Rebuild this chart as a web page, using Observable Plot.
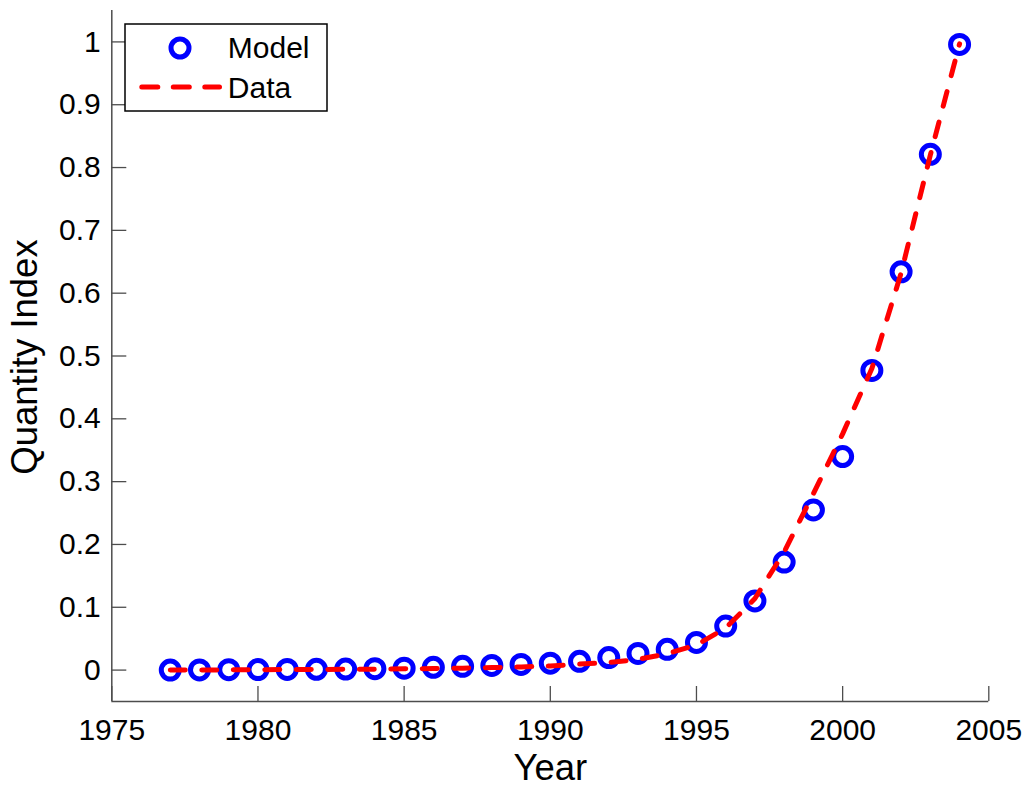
<!DOCTYPE html>
<html><head><meta charset="utf-8">
<script src="https://cdn.jsdelivr.net/npm/d3@7"></script>
<script src="https://cdn.jsdelivr.net/npm/@observablehq/plot@0.6"></script>
<style>
body{margin:0;background:#fff;}
#wrap{position:relative;width:1026px;height:789px;overflow:hidden;}
#wrap svg{display:block;}
</style></head><body><div id="wrap"></div>
<script>
const years = [1977,1978,1979,1980,1981,1982,1983,1984,1985,1986,1987,1988,1989,1990,1991,1992,1993,1994,1995,1996,1997,1998,1999,2000,2001,2002,2003,2004];
const modelValues = [0.000,0.0003,0.0006,0.0008,0.001,0.0013,0.0017,0.0022,0.003,0.0045,0.006,0.0075,0.009,0.011,0.014,0.020,0.0265,0.033,0.044,0.070,0.110,0.172,0.255,0.340,0.477,0.634,0.821,0.996];
const dataValues = [0.000,0.0002,0.0004,0.0006,0.0008,0.001,0.0012,0.0015,0.002,0.0025,0.003,0.004,0.005,0.0065,0.0095,0.012,0.017,0.026,0.040,0.067,0.114,0.188,0.281,0.376,0.480,0.632,0.820,0.997];
const xTicks = [1975,1980,1985,1990,1995,2000,2005];
const xTickLabels = ["1975","1980","1985","1990","1995","2000","2005"];
const yTicks = [0,0.1,0.2,0.3,0.4,0.5,0.6,0.7,0.8,0.9,1];
const yTickLabels = ["0","0.1","0.2","0.3","0.4","0.5","0.6","0.7","0.8","0.9","1"];
const xDomain = [1975,2005];
const yDomain = [-0.05,1.05];
const legendLabels = ["Model","Data"];
const xLabel = "Year";
const yLabel = "Quantity Index";

const rows = years.map((year,i)=>({year, model:modelValues[i], data:dataValues[i]}));
const font = '"Liberation Sans", Arial, Helvetica, sans-serif';
const axisColor = "#4d4d4d";

const chart = Plot.plot({
  width:1026, height:789,
  marginLeft:111.3, marginRight:37.7, marginTop:10, marginBottom:88,
  style:{fontFamily:font, fontSize:"30px", color:"#000", background:"#fff", overflow:"visible"},
  x:{domain:xDomain},
  y:{domain:yDomain},
  marks:[
    Plot.ruleY([yDomain[0]], {stroke:axisColor, strokeWidth:1.5}),
    Plot.ruleX([xDomain[0]], {stroke:axisColor, strokeWidth:1.5}),
    Plot.axisX({ticks:xTicks, tickSize:-15, tickPadding:32, stroke:axisColor, strokeWidth:1.3, fill:"#000", fontSize:30,
      tickFormat:d=>xTickLabels[xTicks.indexOf(d)], label:null}),
    Plot.axisY({ticks:yTicks, tickSize:-15, tickPadding:26, stroke:axisColor, strokeWidth:1.3, fill:"#000", fontSize:30,
      tickFormat:d=>yTickLabels[yTicks.indexOf(d)], label:null}),
    Plot.dot(rows, {x:"year", y:"model", r:9, stroke:"#0000ff", strokeWidth:5, fill:"none"}),
    Plot.line(rows, {x:"year", y:"data", stroke:"#ff0000", strokeWidth:5, strokeDasharray:"15,16.5", strokeLinecap:"round", strokeLinejoin:"round"}),
    Plot.text([xLabel], {text:d=>d, frameAnchor:"bottom", textAnchor:"middle", lineAnchor:"middle", dy:67, fontSize:36.5, fill:"#000"}),
    Plot.text([yLabel], {text:d=>d, frameAnchor:"left", textAnchor:"middle", lineAnchor:"middle", rotate:-90, dx:-86, dy:1, fontSize:36.5, fill:"#000"})
  ]
});
document.getElementById("wrap").appendChild(chart);

// legend overlay
const ns = "http://www.w3.org/2000/svg";
const lg = document.createElementNS(ns,"svg");
lg.setAttribute("width","1026"); lg.setAttribute("height","789");
lg.style.position="absolute"; lg.style.left="0"; lg.style.top="0";
lg.innerHTML = `
  <rect x="125" y="24" width="202" height="87" fill="#fff" stroke="#000" stroke-width="1.5"/>
  <circle cx="180" cy="48" r="9" fill="none" stroke="#0000ff" stroke-width="5"/>
  <line x1="141.8" y1="87" x2="219.5" y2="87" stroke="#ff0000" stroke-width="5" stroke-dasharray="16,15.5" stroke-linecap="round"/>
  <text x="227.8" y="58.3" font-family='${font}' font-size="30" fill="#000">${legendLabels[0]}</text>
  <text x="227.8" y="98.3" font-family='${font}' font-size="30" fill="#000">${legendLabels[1]}</text>`;
document.getElementById("wrap").appendChild(lg);
</script>
</body></html>
